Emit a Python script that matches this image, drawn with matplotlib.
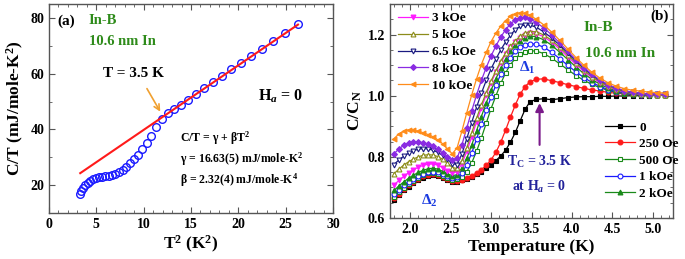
import matplotlib
matplotlib.use("Agg")
import matplotlib.pyplot as plt
from matplotlib.ticker import MultipleLocator

plt.rcParams['font.family'] = ['Liberation Serif', 'DejaVu Serif']
plt.rcParams['font.weight'] = 'bold'
plt.rcParams['axes.labelweight'] = 'bold'
plt.rcParams['mathtext.fontset'] = 'custom'
plt.rcParams['mathtext.rm'] = 'Liberation Serif:bold'
plt.rcParams['mathtext.bf'] = 'Liberation Serif:bold'
plt.rcParams['mathtext.it'] = 'Liberation Serif:italic:bold'

# ---- panel (a): C/T vs T^2 ----
tsq = [3.24, 3.42, 3.61, 3.84, 4.08, 4.37, 4.65, 4.95, 5.29, 5.62, 5.95, 6.30,
       6.66, 7.02, 7.40, 7.78, 8.18, 8.58, 9.00, 9.42, 9.86, 10.30, 10.76, 11.30,
       11.90, 12.55, 13.25, 13.95, 14.70, 15.50, 16.40, 17.30, 18.25, 19.25,
       20.30, 21.35, 22.50, 23.70, 24.95, 26.30]
c_over_t = [16.8, 18.0, 19.1, 20.1, 20.9, 21.6, 22.1, 22.5, 22.8, 23.0, 23.1, 23.3,
            23.6, 24.1, 24.8, 25.6, 26.6, 27.8, 29.2, 30.9, 32.8, 35.0, 37.8, 40.8,
            43.9, 45.9, 47.4, 48.9, 50.7, 52.6, 54.8, 57.0, 59.2, 61.5,
            63.9, 66.5, 69.0, 71.8, 74.7, 77.8]
fit_x = [3.3, 26.3]
fit_y = [24.3, 77.6]

# ---- panel (b): C/C_N vs T ----
temp = [1.80, 1.86, 1.92, 1.98, 2.04, 2.10, 2.16, 2.22, 2.28, 2.34, 2.40, 2.46,
        2.52, 2.58, 2.64, 2.70, 2.76, 2.82, 2.88, 2.94, 3.00, 3.06, 3.12, 3.18,
        3.24, 3.30, 3.36, 3.42, 3.48, 3.56, 3.65, 3.75, 3.85, 3.95, 4.05, 4.15,
        4.25, 4.35, 4.45, 4.55, 4.65, 4.75, 4.85, 4.95, 5.05, 5.15]

h_0 = [0.660, 0.675, 0.690, 0.703, 0.714, 0.724, 0.732, 0.738, 0.740, 0.737, 0.731, 0.724,
       0.718, 0.719, 0.723, 0.728, 0.735, 0.743, 0.752, 0.763, 0.775, 0.788, 0.803, 0.822,
       0.848, 0.880, 0.918, 0.955, 0.980, 0.988, 0.990, 0.987, 0.990, 0.994, 0.996, 0.997,
       0.997, 0.998, 0.998, 0.999, 0.999, 1.000, 1.000, 1.000, 1.001, 1.001]
h_250 = [0.665, 0.680, 0.694, 0.707, 0.718, 0.728, 0.736, 0.742, 0.744, 0.741, 0.735, 0.727,
         0.721, 0.721, 0.725, 0.731, 0.738, 0.747, 0.758, 0.772, 0.790, 0.815, 0.848, 0.888,
         0.930, 0.970, 1.005, 1.030, 1.045, 1.054, 1.055, 1.049, 1.043, 1.036, 1.030, 1.024,
         1.019, 1.015, 1.011, 1.008, 1.006, 1.004, 1.003, 1.002, 1.002, 1.002]
h_500 = [0.668, 0.684, 0.698, 0.711, 0.722, 0.732, 0.740, 0.746, 0.748, 0.745, 0.739, 0.731,
         0.725, 0.726, 0.735, 0.752, 0.780, 0.818, 0.862, 0.910, 0.958, 1.000, 1.040, 1.075,
         1.102, 1.122, 1.136, 1.144, 1.147, 1.146, 1.138, 1.123, 1.104, 1.085, 1.066, 1.050,
         1.037, 1.026, 1.017, 1.011, 1.007, 1.004, 1.002, 1.001, 1.001, 1.001]
h_1k = [0.678, 0.693, 0.707, 0.719, 0.729, 0.738, 0.745, 0.750, 0.752, 0.749, 0.743, 0.736,
        0.730, 0.733, 0.748, 0.775, 0.812, 0.858, 0.906, 0.952, 0.995, 1.035, 1.070, 1.100,
        1.125, 1.145, 1.159, 1.167, 1.170, 1.168, 1.159, 1.142, 1.121, 1.099, 1.078, 1.059,
        1.043, 1.030, 1.020, 1.013, 1.008, 1.005, 1.003, 1.002, 1.002, 1.002]
h_2k = [0.690, 0.705, 0.718, 0.730, 0.740, 0.749, 0.756, 0.761, 0.763, 0.760, 0.753, 0.745,
        0.738, 0.742, 0.762, 0.795, 0.838, 0.885, 0.932, 0.976, 1.018, 1.056, 1.090, 1.120,
        1.145, 1.165, 1.180, 1.190, 1.195, 1.193, 1.183, 1.165, 1.142, 1.118, 1.094, 1.072,
        1.053, 1.037, 1.025, 1.016, 1.010, 1.006, 1.004, 1.003, 1.002, 1.002]
h_3k = [0.708, 0.723, 0.736, 0.748, 0.758, 0.766, 0.772, 0.776, 0.777, 0.773, 0.765, 0.755,
        0.746, 0.752, 0.778, 0.818, 0.865, 0.914, 0.960, 1.003, 1.042, 1.077, 1.108, 1.135,
        1.158, 1.176, 1.190, 1.200, 1.205, 1.203, 1.193, 1.175, 1.152, 1.127, 1.102, 1.079,
        1.059, 1.042, 1.029, 1.019, 1.012, 1.008, 1.005, 1.003, 1.003, 1.003]
h_5k = [0.745, 0.760, 0.773, 0.784, 0.793, 0.800, 0.805, 0.807, 0.806, 0.801, 0.792, 0.780,
        0.765, 0.762, 0.788, 0.830, 0.878, 0.926, 0.970, 1.010, 1.048, 1.082, 1.113, 1.140,
        1.162, 1.180, 1.195, 1.205, 1.210, 1.209, 1.199, 1.181, 1.158, 1.133, 1.107, 1.083,
        1.062, 1.045, 1.031, 1.021, 1.014, 1.009, 1.006, 1.004, 1.003, 1.003]
h_6k5 = [0.775, 0.790, 0.802, 0.812, 0.820, 0.825, 0.827, 0.826, 0.822, 0.815, 0.805, 0.792,
         0.778, 0.775, 0.810, 0.860, 0.912, 0.962, 1.008, 1.050, 1.088, 1.120, 1.150, 1.176,
         1.198, 1.216, 1.227, 1.232, 1.231, 1.224, 1.209, 1.189, 1.165, 1.139, 1.113, 1.089,
         1.067, 1.049, 1.035, 1.024, 1.016, 1.011, 1.008, 1.006, 1.005, 1.004]
h_8k = [0.810, 0.826, 0.838, 0.846, 0.849, 0.849, 0.846, 0.841, 0.834, 0.825, 0.813, 0.800,
        0.790, 0.795, 0.840, 0.895, 0.950, 1.002, 1.050, 1.092, 1.130, 1.163, 1.192, 1.216,
        1.235, 1.248, 1.255, 1.256, 1.251, 1.240, 1.222, 1.199, 1.172, 1.145, 1.118, 1.092,
        1.070, 1.051, 1.036, 1.025, 1.017, 1.011, 1.008, 1.006, 1.005, 1.004]
h_10k = [0.860, 0.875, 0.884, 0.888, 0.887, 0.884, 0.879, 0.873, 0.866, 0.856, 0.843, 0.826,
         0.810, 0.830, 0.885, 0.945, 1.002, 1.055, 1.102, 1.142, 1.177, 1.205, 1.228, 1.246,
         1.260, 1.268, 1.271, 1.269, 1.263, 1.250, 1.232, 1.208, 1.181, 1.153, 1.125, 1.099,
         1.076, 1.057, 1.042, 1.031, 1.023, 1.018, 1.015, 1.012, 1.010, 1.009]

labels = ['0', '250 Oe', '500 Oe', '1 kOe', '2 kOe', '3 kOe', '5 kOe', '6.5 kOe', '8 kOe', '10 kOe']
series = [h_0, h_250, h_500, h_1k, h_2k, h_3k, h_5k, h_6k5, h_8k, h_10k]
colors = ['#000000', '#ff1a1a', '#1a8a1a', '#1a1aff', '#1a8a1a', '#ff1aff',
          '#8c8c1a', '#1a1a80', '#8a2be2', '#ff8c1a']
markers = ['s', 'o', 's', 'o', '^', 'v', '^', 'v', 'D', '<']
filled = [True, True, False, False, True, True, False, False, True, True]

green = '#2e8b1a'
spine_col = '#555555'

fig = plt.figure(figsize=(6.85, 2.59), dpi=100)


def style_axes(ax):
    for s in ax.spines.values():
        s.set_color(spine_col)
        s.set_linewidth(1.0)
    ax.tick_params(which='both', direction='in', top=True, right=True, color=spine_col)
    ax.tick_params(which='major', length=4, labelsize=10)
    ax.tick_params(which='minor', length=2)
    for t in ax.get_xticklabels() + ax.get_yticklabels():
        t.set_fontweight('bold')


# panel (a)
ax1 = fig.add_axes([49 / 685, 46 / 259, 284 / 685, 209 / 259])
ax1.plot(tsq, c_over_t, 'o', mfc='none', mec='#1a1aff', ms=5.5, mew=1.0)
ax1.plot(fit_x, fit_y, color='#ff1a1a', lw=1.5)
ax1.set_xlim(0, 30)
ax1.set_ylim(10, 85)
ax1.xaxis.set_major_locator(MultipleLocator(5))
ax1.xaxis.set_minor_locator(MultipleLocator(1))
ax1.yaxis.set_major_locator(MultipleLocator(20))
ax1.yaxis.set_minor_locator(MultipleLocator(10))
style_axes(ax1)
ax1.set_xlabel('T$^{2}$ (K$^{2}$)', fontsize=12.5, labelpad=2)
ax1.set_ylabel('C/T (mJ/mole-K$^{2}$)', fontsize=12.5, labelpad=3)
ax1.text(0.03, 0.95, '(a)', transform=ax1.transAxes, fontsize=11, va='top')
ax1.text(0.14, 0.95, 'In-B', transform=ax1.transAxes, fontsize=10.5, color=green, va='top')
ax1.text(0.14, 0.85, '10.6 nm In', transform=ax1.transAxes, fontsize=10.5, color=green, va='top')
ax1.text(8.9, 60, 'T = 3.5 K', fontsize=11, ha='center', va='center')
ax1.annotate('', xy=(11.9, 45.5), xytext=(10.2, 55.5),
             arrowprops=dict(arrowstyle='->', color='#f0a030', lw=1.2))
ax1.text(24.5, 52, 'H$_{a}$ = 0', fontsize=11.5, ha='center', va='center')
ax1.text(13.8, 37, 'C/T = γ + βT$^{2}$', fontsize=8.5, va='center')
ax1.text(13.8, 29.3, 'γ = 16.63(5) mJ/mole-K$^{2}$', fontsize=8.5, va='center')
ax1.text(13.8, 21.6, 'β = 2.32(4) mJ/mole-K$^{4}$', fontsize=8.5, va='center')

# panel (b)
ax2 = fig.add_axes([390 / 685, 41 / 259, 283 / 685, 214 / 259])
lines = []
for y, lab, c, m, f in zip(series, labels, colors, markers, filled):
    ln, = ax2.plot(temp, y, color=c, lw=0.9, marker=m, ms=3.5 if m != 'D' else 3.0,
                   mfc=c if f else 'white', mec=c, mew=0.8, label=lab)
    lines.append(ln)
ax2.set_xlim(1.75, 5.25)
ax2.set_ylim(0.6, 1.3)
ax2.xaxis.set_major_locator(MultipleLocator(0.5))
ax2.xaxis.set_minor_locator(MultipleLocator(0.1))
ax2.yaxis.set_major_locator(MultipleLocator(0.2))
ax2.yaxis.set_minor_locator(MultipleLocator(0.05))
style_axes(ax2)
ax2.set_xlabel('Temperature (K)', fontsize=12.5, labelpad=2)
ax2.set_ylabel('C/C$_{\\mathrm{N}}$', fontsize=12.5, labelpad=3)

leg1 = ax2.legend(lines[5:], labels[5:], loc='upper left', bbox_to_anchor=(0.0, 1.0),
                  frameon=False, fontsize=9.5, handlelength=2.3, handletextpad=0.3,
                  labelspacing=0.36, borderaxespad=0.2, numpoints=1)
ax2.add_artist(leg1)
ax2.legend(lines[:5], labels[:5], loc='lower left', bbox_to_anchor=(0.74, 0.06),
           frameon=False, fontsize=9.5, handlelength=2.3, handletextpad=0.3,
           labelspacing=0.33, borderaxespad=0.0, numpoints=1)

ax2.text(0.985, 0.975, '(b)', transform=ax2.transAxes, fontsize=11, ha='right', va='top')
ax2.text(4.32, 1.222, 'In-B', fontsize=11, color=green, ha='center', va='center')
ax2.text(4.6, 1.138, '10.6 nm In', fontsize=11, color=green, ha='center', va='center')
ax2.text(3.45, 1.09, 'Δ$_{1}$', fontsize=11, color='#1a3ae0', ha='center', va='center')
ax2.text(2.24, 0.655, 'Δ$_{2}$', fontsize=11, color='#1a3ae0', ha='center', va='center')
ax2.annotate('', xy=(3.6, 0.985), xytext=(3.6, 0.83),
             arrowprops=dict(arrowstyle='-|>', color='#7a1a8a', lw=1.5, mutation_scale=12))
ax2.text(3.6, 0.783, 'T$_{\\mathrm{C}}$ = 3.5 K', fontsize=10, color='#22229a', ha='center', va='center')
ax2.text(3.6, 0.7, 'at H$_{a}$ = 0', fontsize=10, color='#22229a', ha='center', va='center')

fig.savefig('out.png', dpi=100)
